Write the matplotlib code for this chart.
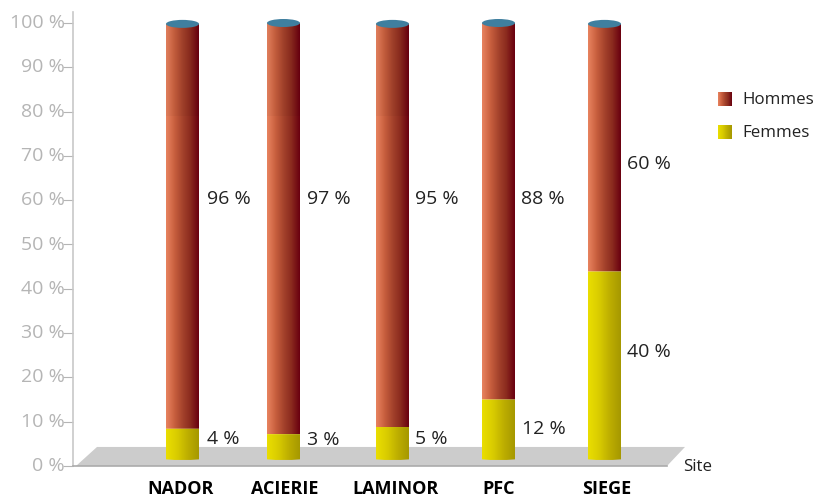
import matplotlib.pyplot as plt
import numpy as np
from matplotlib.colors import LinearSegmentedColormap
from matplotlib.patches import Ellipse, PathPatch, Polygon
from matplotlib.path import Path
from matplotlib.transforms import ScaledTranslation

plt.rcParams['font.family'] = ['Open Sans', 'DejaVu Sans']

sites = ['NADOR', 'ACIERIE', 'LAMINOR', 'PFC', 'SIEGE']
hommes_pct = [96, 97, 95, 88, 60]
femmes_pct = [4, 3, 5, 12, 40]
# drawn level of the split and of the top, read on the y axis of the picture
split_levels = [8.4, 7.2, 8.8, 15.0, 43.9]
top_levels = [99.8, 100.0, 99.8, 100.0, 99.8]
base_level = 1.5
y_ticks = [0, 10, 20, 30, 40, 50, 60, 70, 80, 90, 100]

bar_x = [182.5, 283.5, 392.5, 498.5, 604.5]
label_x = [181, 284.5, 396, 499, 607]
bar_w = 33
hommes_text_x = [207, 307, 415, 521, 627]
hommes_text_y = [60.3, 60.3, 60.3, 60.3, 68.2]
femmes_text_x = [207, 307, 415, 522, 627]
femmes_text_y = [6.2, 5.9, 6.2, 8.3, 25.8]

px_per_pct = 4.43
cap_h = 8 / px_per_pct

hommes_cmap = LinearSegmentedColormap.from_list(
    'hommes', ['#E8835F', '#C9603F', '#A5432C', '#8A2A1E', '#6A0010'])
femmes_cmap = LinearSegmentedColormap.from_list(
    'femmes', ['#EADE00', '#D9CC00', '#BDAE00', '#A69800'])
grad = np.linspace(0, 1, 64).reshape(1, -1)


def gradient_box(ax, x0, x1, y0, y1, cmap, curve=0.0, zorder=3):
    im = ax.imshow(grad, cmap=cmap, extent=[x0, x1, y0, y1], aspect='auto',
                   origin='lower', zorder=zorder, interpolation='bilinear')
    xm = (x0 + x1) / 2
    verts = [(x0, y1), (x1, y1), (x1, y0), (xm, y0 - curve), (x0, y0), (x0, y1)]
    codes = [Path.MOVETO, Path.LINETO, Path.LINETO, Path.CURVE3, Path.CURVE3, Path.CLOSEPOLY]
    if curve > 0:
        im.set_extent([x0, x1, y0 - curve, y1])
    clip = PathPatch(Path(verts, codes), transform=ax.transData, fc='none', ec='none')
    ax.add_patch(clip)
    im.set_clip_path(clip)
    return im


fig = plt.figure(figsize=(8.15, 4.98), dpi=100)
ax = fig.add_axes([0, 0, 1, 1])
ax.patch.set_alpha(0)

# y axis runs through pixel row 466 for 0 and 23 for 100
y_min = (466 - 498) / px_per_pct
y_max = 466 / px_per_pct

# floor of the 3D box
ax.add_patch(Polygon([(76, 0), (667, 0), (685, 4.3), (97, 4.3)], closed=True,
                     fc='#CCCCCC', ec='none', zorder=1))

for i in range(len(sites)):
    x0 = bar_x[i] - bar_w / 2
    x1 = bar_x[i] + bar_w / 2
    gradient_box(ax, x0, x1, split_levels[i], top_levels[i], hommes_cmap)
    gradient_box(ax, x0, x1, base_level, split_levels[i], femmes_cmap, curve=0.35, zorder=4)
    ax.add_patch(Ellipse((bar_x[i], top_levels[i]), bar_w, cap_h, fc='#3F7F9F', ec='none', zorder=5))
    # slightly darker upper part seen on the first bars
    if i < 3:
        ax.fill_between([x0, x1], 79, top_levels[i], color='black', alpha=0.03, lw=0, zorder=4)
    ax.text(hommes_text_x[i], hommes_text_y[i], f'{hommes_pct[i]} %', fontsize=14,
            color='#222222', va='center', ha='left', zorder=6)
    ax.text(femmes_text_x[i], femmes_text_y[i], f'{femmes_pct[i]} %', fontsize=14,
            color='#222222', va='center', ha='left', zorder=6)

# legend
gradient_box(ax, 718, 732, (466 - 106) / px_per_pct, (466 - 92) / px_per_pct, hommes_cmap)
gradient_box(ax, 718, 732, (466 - 139) / px_per_pct, (466 - 125) / px_per_pct, femmes_cmap)
ax.text(742, (466 - 100) / px_per_pct, 'Hommes', fontsize=12.2, color='#222222', va='center')
ax.text(742, (466 - 133) / px_per_pct, 'Femmes', fontsize=12.2, color='#222222', va='center')
ax.text(683, (466 - 467) / px_per_pct, 'Site', fontsize=12.2, color='#222222', va='center')

ax.set_xlim(0, 815)
ax.set_ylim(y_min, y_max)

for name in ['top', 'right']:
    ax.spines[name].set_visible(False)
ax.spines['left'].set_position(('data', 73))
ax.spines['left'].set_bounds(0, 102.5)
ax.spines['left'].set_color('#C8C8C8')
ax.spines['left'].set_linewidth(1.2)
ax.spines['bottom'].set_position(('data', 0))
ax.spines['bottom'].set_bounds(73, 667)
ax.spines['bottom'].set_color('#ABABAB')
ax.spines['bottom'].set_linewidth(1.2)

ax.set_yticks(y_ticks)
ax.set_yticklabels([f'{v} %' for v in y_ticks])
ax.tick_params(axis='y', direction='out', length=7, width=0.8, color='#B5B5B5',
               labelcolor='#B5B5B5', labelsize=14, pad=-1)
# labels sit a little above their ticks in the reference
shift = ScaledTranslation(0, 2 / 100, fig.dpi_scale_trans)
for lab in ax.get_yticklabels():
    lab.set_transform(lab.get_transform() + shift)
ax.set_xticks(label_x)
ax.set_xticklabels(sites, fontweight='bold', fontsize=13, color='black')
ax.tick_params(axis='x', length=0, pad=10)

fig.savefig('out.png', dpi=100)
